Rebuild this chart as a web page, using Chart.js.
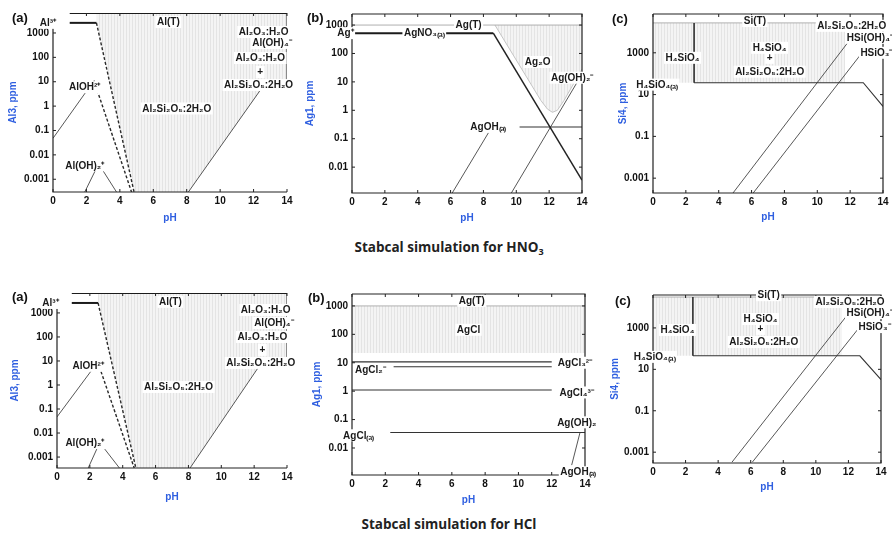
<!DOCTYPE html>
<html>
<head>
<meta charset="utf-8">
<title>Stabcal simulation</title>
<script src="https://cdn.jsdelivr.net/npm/chart.js@4.4.1/dist/chart.umd.min.js"></script>
<style>
  body { margin: 0; background: #fff; }
  #page { position: relative; width: 892px; height: 534px; overflow: hidden; }
  canvas { position: absolute; }
  .tag { position: absolute; font: bold 13px "Liberation Sans", Arial, sans-serif; line-height: 15px; color: #111; }
  .caption { position: absolute; left: 3px; width: 892px; text-align: center; line-height: 18px;
             font: bold 13.5px "Open Sans", sans-serif; color: #222; }
  .caption sub { font-size: 9px; line-height: 0; vertical-align: -3px; }
</style>
</head>
<body>
<div id="page">
  <canvas id="nAl"></canvas>
  <canvas id="nAg"></canvas>
  <canvas id="nSi"></canvas>
  <canvas id="cAl"></canvas>
  <canvas id="cAg"></canvas>
  <canvas id="cSi"></canvas>

  <div class="tag" style="left:12px;top:10px">(a)</div>
  <div class="tag" style="left:307px;top:10px">(b)</div>
  <div class="tag" style="left:612px;top:11px">(c)</div>
  <div class="tag" style="left:12px;top:289px">(a)</div>
  <div class="tag" style="left:308px;top:290px">(b)</div>
  <div class="tag" style="left:615px;top:293px">(c)</div>

  <div class="caption" style="top:238px">Stabcal simulation for HNO<sub>3</sub></div>
  <div class="caption" style="top:515px">Stabcal simulation for HCl</div>
</div>
<script>
// values are [pH, ppm]; labels are [text, pH, ppm]
const phTicks = [0, 2, 4, 6, 8, 10, 12, 14];
const alTicks = [0.001, 0.01, 0.1, 1, 10, 100, 1000];
const agTicks = [0.01, 0.1, 1, 10, 100, 1000];
const siTicks = [0.001, 0.1, 10, 1000];

// ---- HNO3 : Al ----
const nAlRange  = [0.0003, 6600];
const nAlTotal  = [[1.0, 6600], [14, 6600]];
const nAl3Flat  = [[1.0, 2600], [2.6, 2600]];
const nAl3Drop  = [[2.6, 2600], [4.85, 0.0003]];
const nAlOHUp   = [[0, 0.048], [2.45, 11]];
const nAlOHDown = [[2.45, 11], [4.7, 0.0003]];
const nAlOH2    = [[1.9, 0.0003], [2.73, 0.0043], [3.8, 0.0003]];
const nKaolLine = [[8.1, 0.0003], [12.6, 7]];
const nKaolArea = [[2.6, 2600], [4.85, 0.0003], [8.1, 0.0003], [12.4, 4.5], [14, 4.5]];
const nAlEdge   = [[14, 4.5], [14, 6600]];
const nAlText = [
  ['Al³⁺', -0.3, 2600], ['Al(T)', 6.9, 2800],
  ['Al₂O₃:H₂O', 12.6, 1100], ['Al(OH)₄⁻', 13.1, 390],
  ['Al₂O₃:H₂O', 12.4, 94], ['+', 12.4, 25], ['Al₂Si₂O₅:2H₂O', 12.3, 7.3],
  ['AlOH²⁺', 1.9, 6], ['Al₂Si₂O₅:2H₂O', 7.4, 0.8], ['Al(OH)₂⁺', 1.9, 0.0037]
];

// ---- HNO3 : Ag ----
const nAgRange  = [0.00123, 2450];
const nAgTotal  = [[0, 1000], [14, 1000]];
const nAgPlus   = [[0, 520], [8.6, 520]];
const nAgDrop   = [[8.6, 520], [14, 0.0035]];
const nAg2OArea = [[8.7, 1000], [11.5, 2.2], [11.9, 1.1], [12.2, 0.85], [12.5, 1.0], [12.9, 2.2], [14, 28]];
const nAgOHFlat = [[10.2, 0.26], [14, 0.26]];
const nAgOHUp   = [[6.1, 0.00123], [8.4, 0.2]];
const nAgOH2Up  = [[9.7, 0.00123], [13.8, 12]];
const nAgText = [
  ['Ag⁺', -0.4, 520], ['AgNO₃₍ₐ₎', 4.4, 520], ['Ag(T)', 7.1, 1000],
  ['Ag₂O', 11.3, 50], ['Ag(OH)₂⁻', 13.4, 14], ['AgOH₍ₐ₎', 8.3, 0.26]
];

// ---- HNO3 : Si ----
const nSiRange = [0.000195, 72000];
const nSiTotal = [[0, 27000], [11.5, 27000]];
const nSiArea  = [[0, 37], [11.7, 37]];
const nSiWall  = [[2.5, 37], [2.5, 27000]];
const nSiFloor = [[2.5, 37], [12.8, 37], [14, 2.7]];
const nSiDiag1 = [[4.87, 0.000195], [12.1, 5500]];
const nSiDiag2 = [[6.1, 0.000195], [12.6, 750]];
const nSiText = [
  ['Si(T)', 6.2, 33000], ['H₄SiO₄', 1.8, 575],
  ['H₄SiO₄', 7.1, 1730], ['+', 7.1, 575], ['Al₂Si₂O₅:2H₂O', 7.1, 125],
  ['H₄SiO₄₍ₐ₎', 0.25, 30],
  ['Al₂Si₂O₅:2H₂O', 12.1, 19500], ['HSi(OH)₄⁻', 13.2, 5200], ['HSiO₃⁻', 13.6, 1000]
];

// ---- HCl : Al ----
const cAlRange  = [0.00035, 6760];
const cAlTotal  = [[0.9, 6760], [14, 6760]];
const cAl3Flat  = [[0.9, 2600], [2.5, 2600]];
const cAl3Drop  = [[2.5, 2600], [4.8, 0.00035]];
const cAlOHUp   = [[0, 0.047], [2.48, 9]];
const cAlOHDown = [[2.48, 9], [4.7, 0.00035]];
const cAlOH2    = [[1.9, 0.00035], [2.6, 0.004], [3.8, 0.00035]];
const cKaolLine = [[8.1, 0.00035], [12.6, 12]];
const cKaolArea = [[2.5, 2600], [4.8, 0.00035], [8.1, 0.00035], [12.4, 8], [14, 8]];
const cAlEdge   = [[14, 8], [14, 6760]];
const cAlText = [
  ['Al³⁺', -0.4, 2600], ['Al(T)', 6.9, 2900],
  ['Al₂O₃:H₂O', 12.7, 1330], ['Al(OH)₄⁻', 13.2, 380],
  ['Al₂O₃:H₂O', 12.5, 100], ['+', 12.5, 29], ['Al₂Si₂O₅:2H₂O', 12.4, 8.3],
  ['AlOH²⁺', 1.9, 6.3], ['Al₂Si₂O₅:2H₂O', 7.4, 0.83], ['Al(OH)₂⁺', 1.7, 0.0038]
];

// ---- HCl : Ag ----
const cAgRange  = [0.00112, 2630];
const cAgTotal  = [[0, 1000], [14, 1000]];
const cAgClArea = [[0, 22], [14, 22]];
const cAgCl3    = [[0, 10.7], [12, 10.7]];
const cAgCl2    = [[2.5, 7.2], [12, 7.2]];
const cAgCl4    = [[0, 1.1], [12, 1.1]];
const cAgClA    = [[2.3, 0.035], [14, 0.035]];
const cAgOHLink = [[13.7, 0.035], [13.2, 0.0025]];
const cAgText = [
  ['Ag(T)', 7.2, 1500], ['AgCl', 7.0, 145],
  ['AgCl₃²⁻', 13.4, 10], ['AgCl₂⁻', 1.1, 5.6], ['AgCl₄³⁻', 13.5, 0.9],
  ['Ag(OH)₂⁻', 13.6, 0.08], ['AgCl₍ₐ₎', 0.4, 0.028], ['AgOH₍ₐ₎', 13.6, 0.0014]
];

// ---- HCl : Si ----
const cSiRange = [0.00033, 38900];
const cSiTotal = [[0, 31000], [11.5, 31000]];
const cSiArea  = [[0, 45], [11.6, 45]];
const cSiWall  = [[2.45, 45], [2.45, 31000]];
const cSiFloor = [[2.45, 45], [12.7, 45], [14, 3.2]];
const cSiDiag1 = [[4.85, 0.00033], [12.1, 6200]];
const cSiDiag2 = [[6.1, 0.00033], [12.6, 900]];
const cSiText = [
  ['Si(T)', 7.1, 38000], ['H₄SiO₄', 1.5, 800],
  ['H₄SiO₄', 6.6, 2700], ['+', 6.6, 900], ['Al₂Si₂O₅:2H₂O', 6.8, 210],
  ['H₄SiO₄₍ₐ₎', 0.1, 40],
  ['Al₂Si₂O₅:2H₂O', 12.1, 18000], ['HSi(OH)₄⁻', 13.3, 5200], ['HSiO₃⁻', 13.6, 1100]
];

// ---------------------------------------------------------------
const blue = '#2f5fe0';
const tickFont  = { family: '"Liberation Sans Narrow", "Liberation Sans", Arial, sans-serif', size: 10, weight: 'bold' };
const titleFont = { family: '"Liberation Sans", Arial, sans-serif', size: 10, weight: 'bold' };
const labelFont = 'bold 10px "Liberation Sans", Arial, sans-serif';

const lineStyles = {
  heavy:  { borderColor: '#1b1b1b', borderWidth: 2 },
  strong: { borderColor: '#222', borderWidth: 1.5 },
  dash:   { borderColor: '#2a2a2a', borderWidth: 1.4, borderDash: [3, 2] },
  mid:    { borderColor: '#333', borderWidth: 1.1 },
  thin:   { borderColor: '#444', borderWidth: 0.9 },
  pale:   { borderColor: '#b0b0b0', borderWidth: 1 }
};

function makeHatch() {
  const c = document.createElement('canvas');
  c.width = 3; c.height = 6;
  const g = c.getContext('2d');
  g.fillStyle = '#f4f4f4'; g.fillRect(0, 0, 3, 6);
  g.fillStyle = '#e4e4e4'; g.fillRect(0, 0, 1, 6);
  return g.createPattern(c, 'repeat');
}
const hatch = makeHatch();

const pts = a => a.map(([x, y]) => ({ x, y }));

function line(data, style) {
  return Object.assign({ data: pts(data), pointRadius: 0, fill: false, tension: 0 }, lineStyles[style]);
}

function area(data, top, edge) {
  return {
    data: pts(data), pointRadius: 0, tension: 0,
    fill: { value: top }, backgroundColor: hatch,
    borderColor: edge ? '#c4c4c4' : 'rgba(0,0,0,0)', borderWidth: 1
  };
}

// frame, inward ticks and species labels
function decor(labels, boxed) {
  return {
    id: 'decor',
    afterDraw(chart) {
      const { ctx, chartArea: a, scales: { x, y } } = chart;
      ctx.save();
      ctx.strokeStyle = '#222';
      ctx.lineWidth = 1.2;
      ctx.beginPath();
      ctx.moveTo(a.left, boxed ? a.top : y.getPixelForValue(y.max * 0.6));
      ctx.lineTo(a.left, a.bottom);
      ctx.lineTo(a.right, a.bottom);
      if (boxed) { ctx.lineTo(a.right, a.top); ctx.lineTo(a.left, a.top); }
      ctx.stroke();

      ctx.lineWidth = 1;
      ctx.beginPath();
      phTicks.forEach(v => {
        const px = x.getPixelForValue(v);
        ctx.moveTo(px, a.bottom); ctx.lineTo(px, a.bottom - 3);
        if (boxed || v > 0) { ctx.moveTo(px, a.top); ctx.lineTo(px, a.top + 3); }
      });
      y.ticks.forEach(t => {
        const py = y.getPixelForValue(t.value);
        ctx.moveTo(a.left, py); ctx.lineTo(a.left + 3, py);
        if (boxed) { ctx.moveTo(a.right, py); ctx.lineTo(a.right - 3, py); }
      });
      ctx.stroke();

      ctx.font = labelFont;
      ctx.textAlign = 'center';
      ctx.textBaseline = 'middle';
      labels.forEach(([t, px, py]) => {
        const cx = x.getPixelForValue(px), cy = y.getPixelForValue(py);
        const w = ctx.measureText(t).width;
        ctx.fillStyle = '#fff';
        ctx.fillRect(cx - w / 2 - 1.5, cy - 6, w + 3, 12);
        ctx.fillStyle = '#1a1a1a';
        ctx.fillText(t, cx, cy + 0.5);
      });
      ctx.restore();
    }
  };
}

function drawPanel(id, box, fit, range, yTicks, yTitle, boxed, datasets, labels) {
  const cv = document.getElementById(id);
  const w = box.r - box.l + fit.yw + fit.pr;
  const h = box.b - box.t + fit.pt + fit.xh;
  cv.width = w; cv.height = h;
  cv.style.left = (box.l - fit.yw) + 'px';
  cv.style.top = (box.t - fit.pt) + 'px';
  cv.style.width = w + 'px';
  cv.style.height = h + 'px';

  new Chart(cv, {
    type: 'line',
    data: { datasets },
    options: {
      responsive: false,
      animation: false,
      devicePixelRatio: 1,
      layout: { padding: { top: fit.pt, right: fit.pr, left: 0, bottom: 0 }, autoPadding: false },
      plugins: { legend: { display: false }, tooltip: { enabled: false } },
      scales: {
        x: {
          type: 'linear', min: 0, max: 14,
          afterBuildTicks: s => { s.ticks = phTicks.map(v => ({ value: v })); },
          afterFit: s => { s.height = fit.xh; },
          grid: { display: false, drawTicks: false },
          border: { display: false },
          ticks: { font: tickFont, color: '#111', padding: 3, maxRotation: 0, autoSkip: false },
          title: { display: true, text: 'pH', color: blue, font: titleFont, padding: { top: 4, bottom: 4 } }
        },
        y: {
          type: 'logarithmic', min: range[0], max: range[1],
          afterBuildTicks: s => { s.ticks = yTicks.map(v => ({ value: v })); },
          afterFit: s => { s.width = fit.yw; },
          grid: { display: false, drawTicks: false },
          border: { display: false },
          ticks: { font: tickFont, color: '#111', padding: 4, autoSkip: false, callback: v => String(v) },
          title: { display: true, text: yTitle, color: blue, font: titleFont, padding: { top: 4, bottom: 4 } }
        }
      }
    },
    plugins: [decor(labels, boxed)]
  });
}

// ---- HNO3 row ----
drawPanel('nAl', { l: 53, t: 13, r: 287, b: 192 }, { yw: 50, xh: 36, pt: 13, pr: 13 },
  nAlRange, alTicks, 'Al3, ppm', false, [
    line(nAlTotal, 'heavy'), line(nAl3Flat, 'heavy'), line(nAl3Drop, 'dash'),
    line(nAlOHUp, 'thin'), line(nAlOHDown, 'dash'), line(nAlOH2, 'thin'),
    line(nKaolLine, 'thin'), line(nAlEdge, 'mid'),
    area(nKaolArea, nAlRange[1], false)
  ], nAlText);

drawPanel('nAg', { l: 352, t: 14, r: 582, b: 193 }, { yw: 52, xh: 35, pt: 14, pr: 15 },
  nAgRange, agTicks, 'Ag1, ppm', true, [
    line(nAgPlus, 'heavy'), line(nAgDrop, 'strong'), line(nAgOHFlat, 'mid'),
    line(nAgOHUp, 'thin'), line(nAgOH2Up, 'thin'), line(nAgTotal, 'pale'),
    area(nAg2OArea, 1000, true)
  ], nAgText);

drawPanel('nSi', { l: 653, t: 14, r: 883, b: 193 }, { yw: 40, xh: 34, pt: 14, pr: 9 },
  nSiRange, siTicks, 'Si4, ppm', true, [
    line(nSiWall, 'strong'), line(nSiFloor, 'mid'), line(nSiDiag1, 'thin'),
    line(nSiDiag2, 'thin'), line(nSiTotal, 'pale'),
    area(nSiArea, nSiTotal[0][1], false)
  ], nSiText);

// ---- HCl row ----
drawPanel('cAl', { l: 57, t: 293, r: 287, b: 468 }, { yw: 52, xh: 39, pt: 13, pr: 13 },
  cAlRange, alTicks, 'Al3, ppm', false, [
    line(cAlTotal, 'heavy'), line(cAl3Flat, 'heavy'), line(cAl3Drop, 'dash'),
    line(cAlOHUp, 'thin'), line(cAlOHDown, 'dash'), line(cAlOH2, 'thin'),
    line(cKaolLine, 'thin'), line(cAlEdge, 'mid'),
    area(cKaolArea, cAlRange[1], false)
  ], cAlText);

drawPanel('cAg', { l: 352, t: 294, r: 585, b: 475 }, { yw: 45, xh: 35, pt: 14, pr: 12 },
  cAgRange, agTicks, 'Ag1, ppm', true, [
    line(cAgCl3, 'mid'), line(cAgCl2, 'mid'), line(cAgCl4, 'mid'),
    line(cAgClA, 'mid'), line(cAgOHLink, 'thin'), line(cAgTotal, 'pale'),
    area(cAgClArea, 1000, false)
  ], cAgText);

drawPanel('cSi', { l: 653, t: 295, r: 881, b: 463 }, { yw: 48, xh: 34, pt: 15, pr: 11 },
  cSiRange, siTicks, 'Si4, ppm', true, [
    line(cSiWall, 'strong'), line(cSiFloor, 'mid'), line(cSiDiag1, 'thin'),
    line(cSiDiag2, 'thin'), line(cSiTotal, 'pale'),
    area(cSiArea, cSiTotal[0][1], false)
  ], cSiText);
</script>
</body>
</html>
